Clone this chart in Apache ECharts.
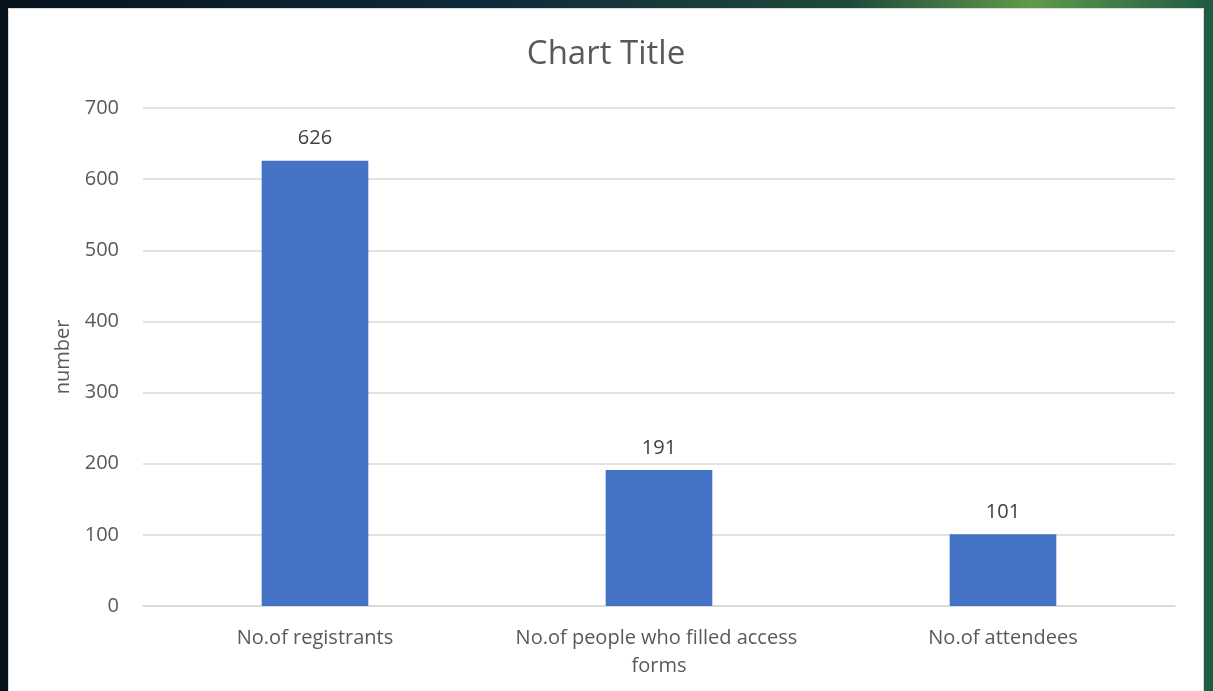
<!DOCTYPE html>
<html>
<head>
<meta charset="utf-8">
<script src="https://cdn.jsdelivr.net/npm/echarts@6/dist/echarts.min.js"></script>
<style>
  html, body { margin: 0; padding: 0; width: 1213px; height: 691px; overflow: hidden; }
  body { background: linear-gradient(90deg, #06121c 0%, #0e2a3a 40%, #1f4a3a 70%, #5f9a4a 85%, #1e5a45 100%); }
  #panel { position: absolute; left: 8px; top: 8px; width: 1196px; height: 690px; background: #ffffff; border: 1px solid #d9d9d9; box-sizing: border-box; }
  #chart { width: 100%; height: 100%; }
</style>
</head>
<body>
<div id="panel"><div id="chart"></div></div>
<script>
const categories = ["No.of registrants", "No.of people who filled access forms", "No.of attendees"];
const values = [626, 191, 101];
const yTicks = [0, 100, 200, 300, 400, 500, 600, 700];

const chart = echarts.init(document.getElementById('chart'));
const font = '"Open Sans", "Noto Sans", sans-serif';
chart.setOption({
  animation: false,
  title: {
    text: 'Chart Title',
    left: 'center',
    top: 24,
    textStyle: { fontFamily: font, fontSize: 33, fontWeight: 'normal', color: '#595959' }
  },
  grid: { left: 134, right: 28, top: 99, bottom: 91, containLabel: false },
  xAxis: {
    type: 'category',
    data: categories,
    axisLine: { show: true, lineStyle: { color: '#d9d9d9', width: 1.5 } },
    axisTick: { show: false },
    axisLabel: {
      interval: 0,
      fontFamily: font, fontSize: 20, color: '#595959',
      margin: 18, lineHeight: 28,
      width: 320, overflow: 'break'
    }
  },
  yAxis: {
    type: 'value',
    min: yTicks[0], max: yTicks[yTicks.length - 1], interval: 100,
    name: 'number',
    nameLocation: 'middle',
    nameGap: 70,
    nameTextStyle: { fontFamily: font, fontSize: 20, color: '#595959' },
    axisLine: { show: false },
    axisTick: { show: false },
    axisLabel: { fontFamily: font, fontSize: 20, color: '#595959', margin: 24 },
    splitLine: { lineStyle: { color: '#d9d9d9', width: 1.5 } }
  },
  series: [{
    type: 'bar',
    data: values,
    barWidth: '31%',
    itemStyle: { color: '#4472C4' },
    label: {
      show: true, position: 'top', distance: 12,
      fontFamily: font, fontSize: 20, color: '#404040'
    }
  }]
});
</script>
</body>
</html>
